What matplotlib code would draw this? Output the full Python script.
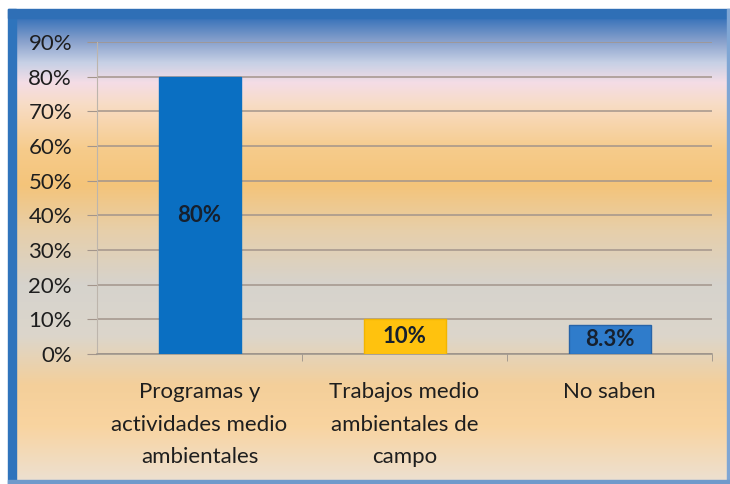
import numpy as np
import matplotlib
matplotlib.use("Agg")
import matplotlib.pyplot as plt
from matplotlib.colors import to_rgb
from matplotlib.patches import Rectangle

categories = ["Programas y\nactividades medio\nambientales",
              "Trabajos medio\nambientales de\ncampo",
              "No saben"]
values = [0.80, 0.10, 0.083]
labels = ["80%", "10%", "8.3%"]
bar_colors = ["#0A6FC2", "#FFC20E", "#2F7CCB"]
yticks = [0.0, 0.1, 0.2, 0.3, 0.4, 0.5, 0.6, 0.7, 0.8, 0.9]
ytick_labels = ["0%", "10%", "20%", "30%", "40%", "50%", "60%", "70%", "80%", "90%"]

plt.rcParams['font.family'] = ['Lato', 'DejaVu Sans']

W, H = 730, 484
fig = plt.figure(figsize=(W / 100, H / 100), dpi=100)
fig.patch.set_facecolor("white")

# background gradient (figure-level)
bg = fig.add_axes([0, 0, 1, 1], zorder=0)
bg.set_xlim(0, W)
bg.set_ylim(H, 0)
bg.axis("off")
stops = [(0, "#2E6FB5"), (18, "#3A74BA"), (40, "#869FCB"), (62, "#C6D0E5"),
         (82, "#F4DDE6"), (105, "#F8DCC4"), (150, "#F6CB8A"), (185, "#F4C47A"),
         (230, "#E7CFAA"), (285, "#D6D3CD"), (335, "#DCD6CB"), (385, "#F4CF9A"),
         (425, "#F9D4A0"), (484, "#ECE1D4")]
ys = np.arange(H)
cols = np.zeros((H, 1, 3))
sy = [s[0] for s in stops]
for c in range(3):
    cv = [to_rgb(s[1])[c] for s in stops]
    cols[:, 0, c] = np.interp(ys, sy, cv)
bg.imshow(cols, extent=(0, W, H, 0), aspect="auto", interpolation="bilinear")
# white outer margins
bg.add_patch(Rectangle((0, 0), W, 9, color="white", zorder=2))
bg.add_patch(Rectangle((0, 0), 8, H, color="white", zorder=2))
# blue frame
bg.add_patch(Rectangle((8, 9), 8, H - 9, color="#2F74BC", zorder=3))
bg.add_patch(Rectangle((8, 9), W - 8, 9, color="#2F6FB6", zorder=3))
bg.add_patch(Rectangle((W - 3, 9), 3, H - 9, color="#7FA6D4", zorder=3))
bg.add_patch(Rectangle((8, H - 4), W - 8, 4, color="#6F9ACB", zorder=3))

# main axes
x0, x1 = 97, 712
ytop, ybot = 42, 354
ax = fig.add_axes([x0 / W, 1 - ybot / H, (x1 - x0) / W, (ybot - ytop) / H], zorder=1)
ax.patch.set_alpha(0)
ax.set_ylim(0, 0.9)
ax.set_xlim(-0.5, 2.5)

xpos = np.arange(len(categories))
bars = ax.bar(xpos, values, width=0.4, color=bar_colors, zorder=3,
              edgecolor=["#0A6FC2", "#F2B500", "#2764A8"], linewidth=1)

ax.set_yticks(yticks)
ax.set_yticklabels(ytick_labels)
ax.yaxis.grid(True, color="#A3958B", linewidth=1.1, zorder=1)
ax.set_axisbelow(True)
ax.tick_params(axis="y", length=7, color="#A3958B", pad=11, labelsize=16,
               labelcolor="#1E1E1E")

ax.set_xticks(xpos)
ax.set_xticklabels(categories, fontsize=16, color="#1E1E1E", linespacing=1.8)
ax.set_xticks([0.5, 1.5, 2.5], minor=True)
ax.tick_params(axis="x", which="major", length=0, pad=20)
ax.tick_params(axis="x", which="minor", length=5, color="#9A928A", direction="out")

for s in ["top", "right"]:
    ax.spines[s].set_visible(False)
ax.spines["left"].set_color("#BDB5AC")
ax.spines["bottom"].set_color("#9A928A")
ax.spines["bottom"].set_linewidth(1.1)

# data labels
for i, (v, lab) in enumerate(zip(values, labels)):
    y = 0.4 if v > 0.5 else v / 2
    ax.text(i, y, lab, ha="center", va="center", fontsize=16, fontweight="bold",
            color="#16202E", zorder=4)

fig.savefig("out.png", dpi=100)
